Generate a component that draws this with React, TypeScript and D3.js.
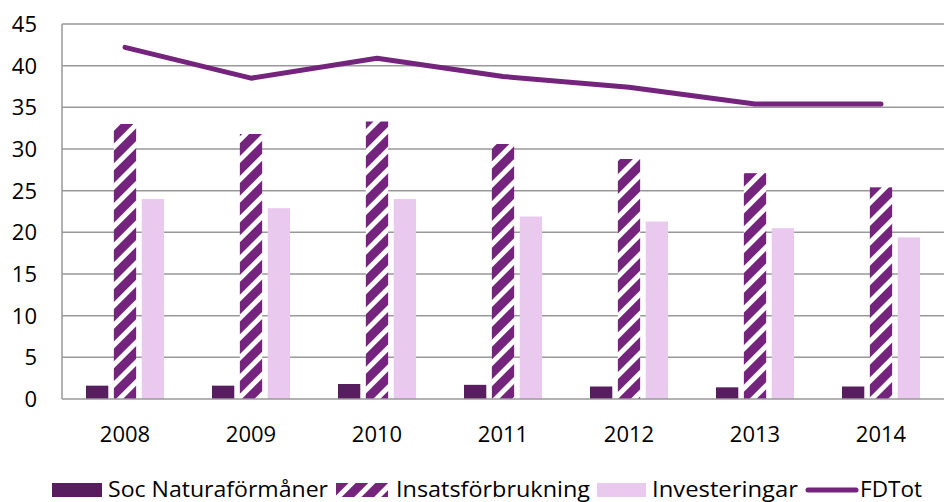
import React, { useRef, useEffect } from "react";
import * as d3 from "d3";

const years = ["2008", "2009", "2010", "2011", "2012", "2013", "2014"];
const socNatura = [1.6, 1.6, 1.8, 1.7, 1.5, 1.4, 1.5];
const insats = [33.0, 31.8, 33.3, 30.6, 28.8, 27.1, 25.4];
const invest = [24.0, 22.9, 24.0, 21.9, 21.3, 20.5, 19.4];
const fdTot = [42.2, 38.5, 40.9, 38.7, 37.4, 35.4, 35.4];
const yTicks = [0, 5, 10, 15, 20, 25, 30, 35, 40, 45];

const DARK = "#581d5e";
const MID = "#74247c";
const LIGHT = "#eac9ef";
const FONT = "'Open Sans', 'Liberation Sans', sans-serif";

const App = () => {
  const svgRef = useRef<SVGSVGElement | null>(null);

  useEffect(() => {
    const width = 944;
    const height = 502;
    const svg = d3.select(svgRef.current);
    svg.selectAll("*").remove();
    svg.attr("width", width).attr("height", height);

    const left = 62;
    const right = 944;
    const top = 24;
    const bottom = 399;

    // hatch pattern
    const defs = svg.append("defs");
    const pat = defs
      .append("pattern")
      .attr("id", "hatch")
      .attr("patternUnits", "userSpaceOnUse")
      .attr("width", 14)
      .attr("height", 14)
      .attr("patternTransform", "rotate(45)");
    pat.append("rect").attr("width", 14).attr("height", 14).attr("fill", MID);
    pat.append("rect").attr("x", 0).attr("width", 5).attr("height", 14).attr("fill", "white");

    const x = d3.scaleBand().domain(years).range([left, right]);
    const y = d3.scaleLinear().domain([0, 45]).range([bottom, top]);
    const sub = d3
      .scaleBand()
      .domain(["soc", "ins", "inv"])
      .range([-39, 39])
      .paddingInner(0.2);

    // gridlines
    svg
      .append("g")
      .selectAll("line")
      .data(yTicks.filter((t) => t > 0))
      .enter()
      .append("line")
      .attr("x1", left)
      .attr("x2", right)
      .attr("y1", (d) => y(d))
      .attr("y2", (d) => y(d))
      .attr("stroke", "#999")
      .attr("stroke-width", 1.5);

    // y labels
    svg
      .append("g")
      .selectAll("text")
      .data(yTicks)
      .enter()
      .append("text")
      .attr("x", 37)
      .attr("y", (d) => y(d) + 8)
      .attr("text-anchor", "end")
      .style("font-family", FONT)
      .style("font-size", "22px")
      .attr("fill", "#000")
      .text((d) => d);

    const series = [
      { key: "soc", values: socNatura, fill: DARK },
      { key: "ins", values: insats, fill: "url(#hatch)" },
      { key: "inv", values: invest, fill: LIGHT },
    ];

    series.forEach((s) => {
      svg
        .append("g")
        .selectAll("rect")
        .data(s.values)
        .enter()
        .append("rect")
        .attr("x", (d, i) => x(years[i])! + x.bandwidth() / 2 + sub(s.key)!)
        .attr("width", sub.bandwidth())
        .attr("y", (d) => y(d))
        .attr("height", (d) => y(0) - y(d))
        .attr("fill", s.fill);
    });

    // axes lines
    svg
      .append("line")
      .attr("x1", left)
      .attr("x2", left)
      .attr("y1", top)
      .attr("y2", bottom)
      .attr("stroke", "#999")
      .attr("stroke-width", 1.5);
    svg
      .append("line")
      .attr("x1", left)
      .attr("x2", right)
      .attr("y1", bottom)
      .attr("y2", bottom)
      .attr("stroke", "#999")
      .attr("stroke-width", 1.5);

    // line
    const line = d3
      .line<number>()
      .x((d, i) => x(years[i])! + x.bandwidth() / 2)
      .y((d) => y(d));
    svg
      .append("path")
      .datum(fdTot)
      .attr("d", line)
      .attr("fill", "none")
      .attr("stroke", MID)
      .attr("stroke-width", 5)
      .attr("stroke-linecap", "round")
      .attr("stroke-linejoin", "round");

    // x labels
    svg
      .append("g")
      .selectAll("text")
      .data(years)
      .enter()
      .append("text")
      .attr("x", (d) => x(d)! + x.bandwidth() / 2)
      .attr("y", 442)
      .attr("text-anchor", "middle")
      .style("font-family", FONT)
      .style("font-size", "22px")
      .attr("fill", "#000")
      .text((d) => d);

    // legend
    const legY = 490;
    const lg = svg.append("g");
    const items = [
      { label: "Soc Naturaförmåner", fill: DARK, sx: 52, sw: 50, tx: 108, tw: 220, type: "rect" },
      { label: "Insatsförbrukning", fill: "url(#hatch)", sx: 336, sw: 52, tx: 396, tw: 194, type: "rect" },
      { label: "Investeringar", fill: LIGHT, sx: 597, sw: 49, tx: 652, tw: 146, type: "rect" },
      { label: "FDTot", fill: MID, sx: 808, sw: 48, tx: 860, tw: 62, type: "line" },
    ];
    items.forEach((it) => {
      if (it.type === "rect") {
        lg.append("rect")
          .attr("x", it.sx)
          .attr("y", legY - 7)
          .attr("width", it.sw)
          .attr("height", 14)
          .attr("fill", it.fill);
      } else {
        lg.append("line")
          .attr("x1", it.sx)
          .attr("x2", it.sx + it.sw)
          .attr("y1", legY)
          .attr("y2", legY)
          .attr("stroke", it.fill)
          .attr("stroke-width", 5)
          .attr("stroke-linecap", "round");
      }
      lg.append("text")
        .attr("x", it.tx)
        .attr("y", 497)
        .attr("textLength", it.tw)
        .attr("lengthAdjust", "spacingAndGlyphs")
        .style("font-family", FONT)
        .style("font-size", "21px")
        .attr("fill", "#000")
        .text(it.label);
    });
  }, []);

  return (
    <svg
      ref={svgRef}
      style={{ position: "absolute", left: 0, top: 0, display: "block" }}
    ></svg>
  );
};

export default App;
